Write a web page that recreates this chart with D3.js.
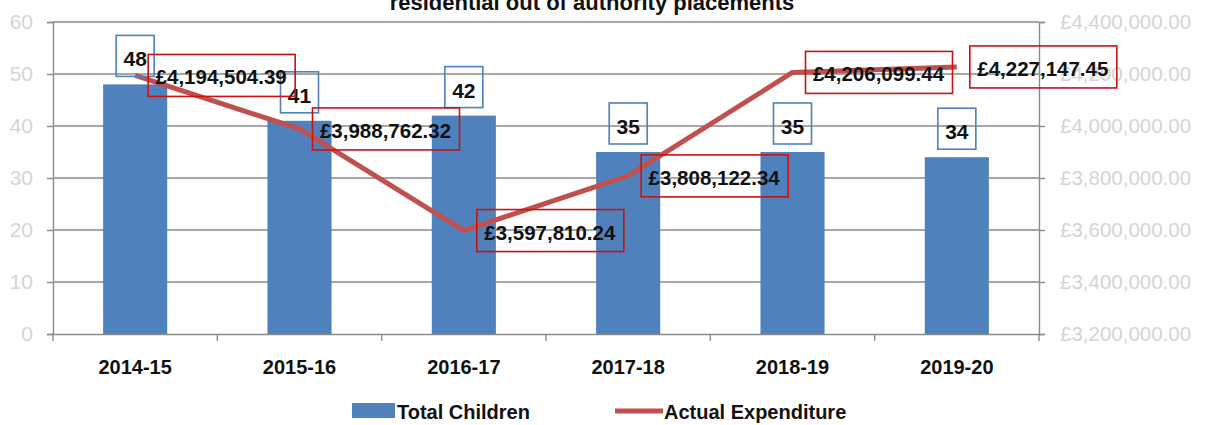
<!DOCTYPE html>
<html><head><meta charset="utf-8">
<script src="https://cdn.jsdelivr.net/npm/d3@7"></script>
<style>
html,body{margin:0;padding:0;background:#fff;}
svg{display:block;font-family:"Liberation Sans",Arial,sans-serif;}
</style></head>
<body><svg id="c" width="1205" height="425"></svg>
<script>
const title = "residential out of authority placements";
const categories = ["2014-15","2015-16","2016-17","2017-18","2018-19","2019-20"];
const totalChildren = [48,41,42,35,35,34];
const expenditure = [4194504.39,3988762.32,3597810.24,3808122.34,4206099.44,4227147.45];
const leftTicks = [0,10,20,30,40,50,60];
const rightTicks = [3200000,3400000,3600000,3800000,4000000,4200000,4400000];
const seriesNames = ["Total Children","Actual Expenditure"];

const svg = d3.select("#c");
const L = 53, R = 1039, T = 22, B = 334;
const barColor = "#4F81BD", lineColor = "#C0504D", gridColor = "#8a8a8a";

const x = d3.scaleBand().domain(categories).range([L, R]).padding(0);
const y = d3.scaleLinear().domain([0, 60]).range([B, T]);
const y2 = d3.scaleLinear().domain([3200000, 4400000]).range([B, T]);
const barW = x.bandwidth() * 0.39;
const cx = d => x(d) + x.bandwidth() / 2;

// title (cut at top)
svg.append("text").attr("x", 592).attr("y", 10).attr("text-anchor", "middle")
  .attr("font-weight", "bold").attr("font-size", 22).attr("fill", "#111").text(title);

// gridlines
svg.append("g").selectAll("line").data(leftTicks.slice(1)).join("line")
  .attr("x1", L).attr("x2", R).attr("y1", d => y(d)).attr("y2", d => y(d))
  .attr("stroke", gridColor).attr("stroke-width", 1.4);

// left axis
const gl = svg.append("g").attr("transform", `translate(${L},0)`)
  .call(d3.axisLeft(y).tickValues(leftTicks).tickSize(6).tickPadding(14));
gl.select(".domain").attr("stroke", gridColor).attr("stroke-width", 1.4);
gl.selectAll(".tick line").attr("stroke", gridColor).attr("stroke-width", 1.4);
gl.selectAll("text").attr("font-size", 21).attr("fill", "#d4d4d4").attr("font-family", "Liberation Sans, Arial");

// right axis
const gr = svg.append("g").attr("transform", `translate(${R},0)`)
  .call(d3.axisRight(y2).tickValues(rightTicks).tickSize(6).tickPadding(15)
    .tickFormat(d => "£" + d3.format(",.2f")(d)));
gr.select(".domain").attr("stroke", gridColor).attr("stroke-width", 1.4);
gr.selectAll(".tick line").attr("stroke", gridColor).attr("stroke-width", 1.4);
gr.selectAll("text").attr("font-size", 20.5).attr("fill", "#d4d4d4").attr("font-family", "Liberation Sans, Arial");

// bars
svg.append("g").selectAll("rect").data(categories).join("rect")
  .attr("x", d => cx(d) - barW / 2).attr("width", barW)
  .attr("y", (d, i) => y(totalChildren[i])).attr("height", (d, i) => B - y(totalChildren[i]))
  .attr("fill", barColor);

// x axis
const gx = svg.append("g").attr("transform", `translate(0,${B})`)
  .call(d3.axisBottom(x).tickSize(0).tickPadding(26));
gx.select(".domain").attr("stroke", gridColor).attr("stroke-width", 1.4);
gx.selectAll("text").attr("font-size", 20).attr("font-weight", "bold").attr("fill", "#111");
// category boundary ticks
svg.append("g").selectAll("line").data(categories.concat(["end"])).join("line")
  .attr("x1", (d, i) => i < categories.length ? x(d) : R)
  .attr("x2", (d, i) => i < categories.length ? x(d) : R)
  .attr("y1", B).attr("y2", B + 7).attr("stroke", gridColor).attr("stroke-width", 1.4);

// line
const line = d3.line().x((d, i) => cx(categories[i])).y(d => y2(d));
svg.append("path").datum(expenditure).attr("d", line)
  .attr("fill", "none").attr("stroke", lineColor).attr("stroke-width", 5).attr("stroke-linejoin", "round");

// blue labels
const bl = svg.append("g").selectAll("g").data(categories).join("g")
  .attr("transform", (d, i) => `translate(${cx(d)},${y(totalChildren[i]) - 8})`);
bl.append("rect").attr("x", -19).attr("y", -41).attr("width", 38).attr("height", 41)
  .attr("fill", "none").attr("stroke", barColor).attr("stroke-width", 1.6);
bl.append("text").attr("x", 0).attr("y", -10).attr("text-anchor", "middle")
  .attr("font-size", 21).attr("font-weight", "bold").attr("fill", "#111")
  .text((d, i) => totalChildren[i]);

// red labels
const rl = svg.append("g").selectAll("g").data(categories).join("g")
  .attr("transform", (d, i) => `translate(${cx(d) + 13},${y2(expenditure[i])})`);
rl.append("rect").attr("x", 0).attr("y", -21).attr("width", 147).attr("height", 42)
  .attr("fill", "none").attr("stroke", "#cc1111").attr("stroke-width", 1.6);
rl.append("text").attr("x", 73).attr("y", 9).attr("text-anchor", "middle")
  .attr("font-size", 20.5).attr("font-weight", "bold").attr("fill", "#111")
  .text((d, i) => "£" + d3.format(",.2f")(expenditure[i]));

// legend
const lg = svg.append("g");
lg.append("rect").attr("x", 352).attr("y", 403).attr("width", 43).attr("height", 15).attr("fill", barColor);
lg.append("text").attr("x", 397).attr("y", 419).attr("font-size", 20).attr("font-weight", "bold").attr("fill", "#111").text(seriesNames[0]);
lg.append("line").attr("x1", 615).attr("x2", 663).attr("y1", 411).attr("y2", 411)
  .attr("stroke", lineColor).attr("stroke-width", 5);
lg.append("text").attr("x", 664).attr("y", 419).attr("font-size", 20).attr("font-weight", "bold").attr("fill", "#111").text(seriesNames[1]);
</script></body></html>
